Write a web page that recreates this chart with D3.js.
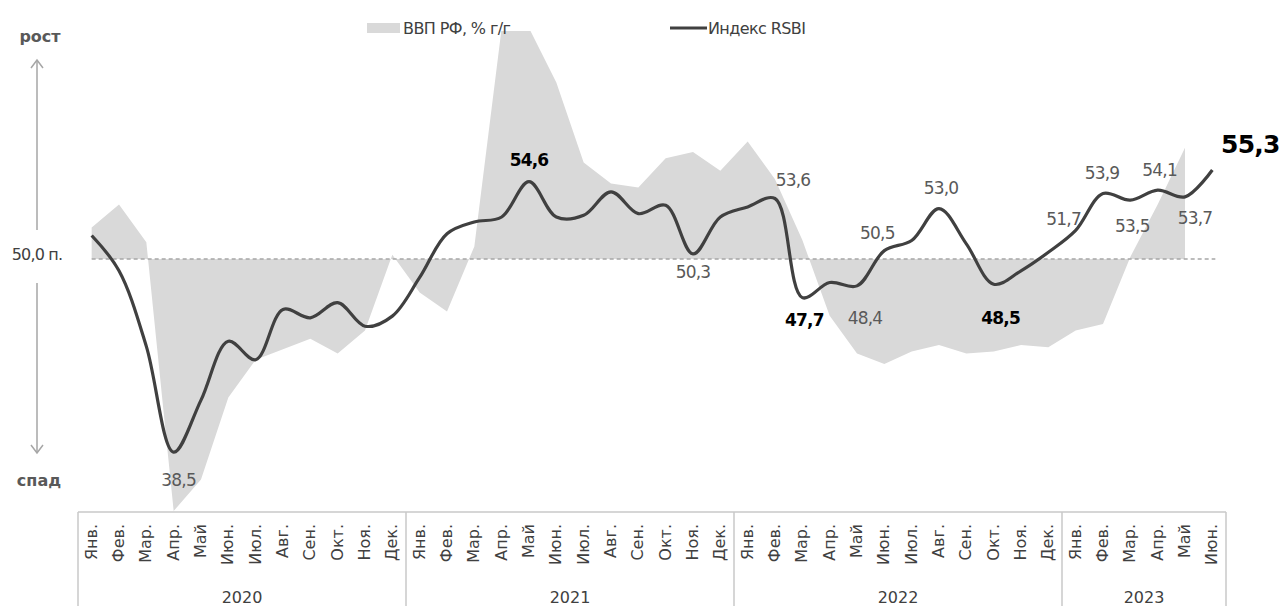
<!DOCTYPE html>
<html>
<head>
<meta charset="utf-8">
<script src="https://cdn.jsdelivr.net/npm/d3@7"></script>
<style>
  body { margin: 0; background: #fff; }
  text { font-family: "DejaVu Sans", sans-serif; }
</style>
</head>
<body>
<svg id="chart"></svg>
<script>
// DATA
/***********************/
var monthNames = ["Янв.", "Фев.", "Мар.", "Апр.", "Май", "Июн.",
                  "Июл.", "Авг.", "Сен.", "Окт.", "Ноя.", "Дек."];
var years = ["2020", "2021", "2022", "2023"];
var monthsPerYear = [12, 12, 12, 6];

// индекс RSBI, янв 2020 - июн 2023
var rsbi = [
  51.4, 49.3, 44.8, 38.5, 41.6, 45.1, 44.0, 47.0, 46.5, 47.4, 46.0, 46.6,
  48.9, 51.5, 52.2, 52.5, 54.6, 52.5, 52.6, 54.0, 52.7, 53.2, 50.3, 52.5,
  53.1, 53.6, 47.7, 48.6, 48.4, 50.5, 51.1, 53.0, 50.9, 48.5, 49.3, 50.4,
  51.7, 53.9, 53.5, 54.1, 53.7, 55.3
];

// ВВП РФ, % г/г (июнь 2023 ещё нет)
var gdp = [
  1.5, 2.6, 0.8, -12.0, -10.5, -6.6, -4.8, -4.3, -3.8, -4.5, -3.4, 0.2,
  -1.6, -2.5, 0.6, 11.0, 11.0, 8.4, 4.6, 3.6, 3.4, 4.8, 5.1, 4.2,
  5.6, 3.8, 0.9, -2.7, -4.5, -5.0, -4.4, -4.1, -4.5, -4.4, -4.1, -4.2,
  -3.4, -3.1, 0.1, 2.6, 5.3, null
];

// подписанные точки: индекс месяца и выделение
var labelIdx = [3, 16, 22, 25, 26, 28, 29, 31, 33, 36, 37, 38, 39, 40, 41];
var labelBold = [26, 16, 33, 41];

// LAYOUT
/***********************/
var WIDTH = 1283,
    HEIGHT = 606;
var LEFT = 78, RIGHT = 1226, TOP = 31, AXIS_Y = 511;

var months = [];
years.forEach(function(y, k) {
  for (var m = 0; m < monthsPerYear[k]; m++) months.push(monthNames[m]);
});

var svg = d3.select("#chart")
    .attr("width", WIDTH)
    .attr("height", HEIGHT);

svg.append("rect")
    .attr("width", WIDTH)
    .attr("height", HEIGHT)
    .attr("fill", "#fff");

var x = d3.scaleBand()
    .domain(d3.range(months.length))
    .range([LEFT, RIGHT]);
function cx(i) { return x(i) + x.bandwidth() / 2; }

var yR = d3.scaleLinear().domain([35, 60]).range([AXIS_Y, 91]);
var yG = d3.scaleLinear().domain([-12, 0]).range([AXIS_Y, yR(50)]);

svg.append("clipPath")
    .attr("id", "plotclip")
  .append("rect")
    .attr("x", LEFT)
    .attr("y", TOP)
    .attr("width", RIGHT - LEFT)
    .attr("height", AXIS_Y - TOP);

// GDP area
var area = d3.area()
    .defined(function(d) { return d !== null; })
    .x(function(d, i) { return cx(i); })
    .y0(yG(0))
    .y1(function(d) { return yG(d); });

svg.append("path")
    .datum(gdp)
    .attr("clip-path", "url(#plotclip)")
    .attr("fill", "#d9d9d9")
    .attr("d", area);

// 50 line
svg.append("line")
    .attr("x1", cx(0))
    .attr("x2", cx(months.length - 1) + 3)
    .attr("y1", yR(50))
    .attr("y2", yR(50))
    .attr("stroke", "#a6a6a6")
    .attr("stroke-width", 1.5)
    .attr("stroke-dasharray", "4,3");

// RSBI line
var line = d3.line()
    .x(function(d, i) { return cx(i); })
    .y(function(d) { return yR(d); })
    .curve(d3.curveCatmullRom.alpha(0.5));

svg.append("path")
    .datum(rsbi)
    .attr("fill", "none")
    .attr("stroke", "#404040")
    .attr("stroke-width", 3.2)
    .attr("d", line);

// value labels
var offsets = {
  3: [5, 34], 16: [0, -16], 22: [0, 24], 25: [18, -13], 26: [2, 28],
  28: [8, 38], 29: [-7, -12], 31: [2, -15], 33: [7, 40], 36: [-12, -5],
  37: [-1, -14], 38: [2, 32], 39: [2, -14], 40: [10, 27], 41: [38, -17]
};

svg.append("g").selectAll("text")
    .data(labelIdx)
    .enter().append("text")
    .attr("x", function(i) { return cx(i) + offsets[i][0]; })
    .attr("y", function(i) { return yR(rsbi[i]) + offsets[i][1]; })
    .attr("text-anchor", "middle")
    .attr("font-size", function(i) { return i === 41 ? 25 : 17; })
    .attr("font-weight", function(i) { return labelBold.indexOf(i) >= 0 ? "bold" : "normal"; })
    .attr("fill", function(i) { return labelBold.indexOf(i) >= 0 ? "#000" : "#595959"; })
    .attr("letter-spacing", -0.8)
    .text(function(i) { return d3.format(".1f")(rsbi[i]).replace(".", ","); });

// left side: arrows and captions
var arrowColor = "#a6a6a6";
svg.append("line")
    .attr("x1", 37).attr("x2", 37).attr("y1", 230).attr("y2", 61)
    .attr("stroke", arrowColor).attr("stroke-width", 1.5);
svg.append("path")
    .attr("d", "M31,68 L37,60 L43,68")
    .attr("fill", "none").attr("stroke", arrowColor).attr("stroke-width", 1.5);
svg.append("line")
    .attr("x1", 37).attr("x2", 37).attr("y1", 283).attr("y2", 452)
    .attr("stroke", arrowColor).attr("stroke-width", 1.5);
svg.append("path")
    .attr("d", "M31,445 L37,453 L43,445")
    .attr("fill", "none").attr("stroke", arrowColor).attr("stroke-width", 1.5);

svg.append("text")
    .attr("x", 40).attr("y", 42)
    .attr("text-anchor", "middle")
    .attr("font-size", 16).attr("font-weight", "bold")
    .attr("fill", "#595959")
    .text("рост");
svg.append("text")
    .attr("x", 39).attr("y", 486)
    .attr("text-anchor", "middle")
    .attr("font-size", 16).attr("font-weight", "bold")
    .attr("fill", "#595959")
    .text("спад");
svg.append("text")
    .attr("x", 37).attr("y", yR(50) + 1)
    .attr("text-anchor", "middle")
    .attr("font-size", 16)
    .attr("letter-spacing", -0.8)
    .attr("fill", "#404040")
    .text("50,0 п.");

// legend
svg.append("rect")
    .attr("x", 367).attr("y", 23).attr("width", 33).attr("height", 10)
    .attr("fill", "#d9d9d9");
svg.append("text")
    .attr("x", 403).attr("y", 34)
    .attr("font-size", 16)
    .attr("letter-spacing", -0.6)
    .attr("fill", "#404040")
    .text("ВВП РФ, % г/г");
svg.append("line")
    .attr("x1", 670).attr("x2", 707).attr("y1", 28).attr("y2", 28)
    .attr("stroke", "#404040").attr("stroke-width", 3);
svg.append("text")
    .attr("x", 708).attr("y", 34)
    .attr("font-size", 16)
    .attr("letter-spacing", -0.6)
    .attr("fill", "#404040")
    .text("Индекс RSBI");

// X AXIS (box with months and years)
/***********************/
var axisColor = "#c8c8c8";
var ax = svg.append("g");

ax.append("line")
    .attr("x1", LEFT).attr("x2", RIGHT).attr("y1", AXIS_Y + 1).attr("y2", AXIS_Y + 1)
    .attr("stroke", axisColor).attr("stroke-width", 1.5);

var start = 0;
var bounds = [0];
monthsPerYear.forEach(function(n) { start += n; bounds.push(start); });

ax.selectAll(".ydiv")
    .data(bounds)
    .enter().append("line")
    .attr("class", "ydiv")
    .attr("x1", function(b) { return b < months.length ? x(b) : RIGHT; })
    .attr("x2", function(b) { return b < months.length ? x(b) : RIGHT; })
    .attr("y1", AXIS_Y + 1)
    .attr("y2", HEIGHT)
    .attr("stroke", axisColor)
    .attr("stroke-width", 1.5);

ax.selectAll(".mlab")
    .data(months)
    .enter().append("text")
    .attr("class", "mlab")
    .attr("transform", function(d, i) {
      return "translate(" + (cx(i) + 5) + "," + (AXIS_Y + 13) + ")rotate(-90)";
    })
    .attr("text-anchor", "end")
    .attr("font-family", "'Liberation Sans', Arial, sans-serif")
    .attr("font-size", 16)
    .attr("fill", "#404040")
    .text(function(d) { return d; });

ax.selectAll(".ylab")
    .data(years)
    .enter().append("text")
    .attr("class", "ylab")
    .attr("x", function(d, k) {
      var a = x(bounds[k]);
      var b = bounds[k + 1] < months.length ? x(bounds[k + 1]) : RIGHT;
      return (a + b) / 2;
    })
    .attr("y", 603)
    .attr("text-anchor", "middle")
    .attr("font-family", "'Liberation Sans', Arial, sans-serif")
    .attr("font-size", 16)
    .attr("fill", "#404040")
    .text(function(d) { return d; });
</script>
</body>
</html>
